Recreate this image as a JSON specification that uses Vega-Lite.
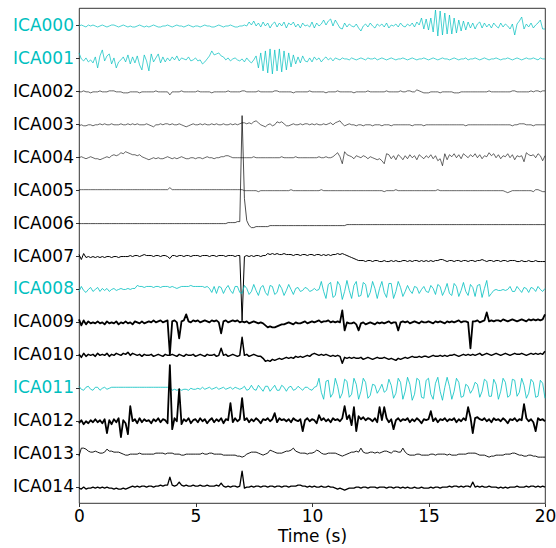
{
"$schema": "https://vega.github.io/schema/vega-lite/v6.json",
"width": 466, "height": 495,
"autosize": {"type": "none"},
"padding": {"left": 79, "top": 8, "right": 11, "bottom": 45},
"config": {"view": {"stroke": "black", "strokeWidth": 0.8}, "font": "DejaVu Sans"},
"datasets": {"names": [
{"k":"a","name":"ICA000","kind":"excluded"},{"k":"b","name":"ICA001","kind":"excluded"},{"k":"c","name":"ICA002","kind":"kept"},{"k":"d","name":"ICA003","kind":"kept"},{"k":"e","name":"ICA004","kind":"kept"},{"k":"f","name":"ICA005","kind":"kept"},{"k":"g","name":"ICA006","kind":"kept"},{"k":"h","name":"ICA007","kind":"kept"},{"k":"i","name":"ICA008","kind":"excluded"},{"k":"j","name":"ICA009","kind":"kept"},{"k":"k","name":"ICA010","kind":"kept"},{"k":"l","name":"ICA011","kind":"excluded"},{"k":"m","name":"ICA012","kind":"kept"},{"k":"n","name":"ICA013","kind":"kept"},{"k":"o","name":"ICA014","kind":"kept"}]},
"data": {"values": [
{"t":0,"a":0,"b":6,"c":0,"d":-1,"e":0,"f":1,"g":0,"h":2,"i":-2,"j":3,"k":1,"l":2,"m":-2,"n":-2,"o":-1},
{"t":0.1,"a":1,"b":0,"c":0,"d":0,"e":1,"f":1,"g":0,"h":-3,"i":3,"j":-3,"k":-2,"l":-1,"m":1,"n":6,"o":-2},
{"t":0.2,"a":0,"b":-2,"c":1,"d":-1,"e":0,"f":1,"g":0,"h":3,"i":-1,"j":2,"k":2,"l":-2,"m":-3,"n":6,"o":0},
{"t":0.3,"a":-1,"b":1,"c":0,"d":-1,"e":-1,"f":1,"g":0,"h":-1,"i":-3,"j":-2,"k":-1,"l":1,"m":0,"n":5,"o":-2},
{"t":0.4,"a":1,"b":-3,"c":0,"d":0,"e":0,"f":1,"g":0,"h":0,"i":0,"j":1,"k":1,"l":2,"m":-2,"n":3,"o":-1},
{"t":0.5,"a":0,"b":-1,"c":-1,"d":0,"e":1,"f":1,"g":0,"h":-1,"i":2,"j":-1,"k":0,"l":-1,"m":1,"n":2,"o":-1},
{"t":0.6,"a":1,"b":-4,"c":0,"d":-1,"e":0,"f":1,"g":0,"h":0,"i":-2,"j":0,"k":1,"l":-2,"m":-1,"n":2,"o":0},
{"t":0.7,"a":0,"b":2,"c":0,"d":0,"e":-1,"f":1,"g":0,"h":-1,"i":0,"j":-1,"k":-1,"l":1,"m":2,"n":3,"o":-1},
{"t":0.8,"a":-1,"b":-9,"c":0,"d":0,"e":-1,"f":1,"g":0,"h":0,"i":2,"j":1,"k":2,"l":1,"m":-1,"n":2,"o":0},
{"t":0.9,"a":0,"b":3,"c":1,"d":1,"e":-2,"f":1,"g":0,"h":-1,"i":-2,"j":-1,"k":0,"l":-2,"m":1,"n":1,"o":-1},
{"t":1,"a":1,"b":9,"c":0,"d":0,"e":-1,"f":1,"g":0,"h":0,"i":1,"j":0,"k":1,"l":0,"m":-2,"n":1,"o":0},
{"t":1.1,"a":0,"b":-2,"c":0,"d":1,"e":0,"f":1,"g":0,"h":-1,"i":-1,"j":-2,"k":0,"l":1,"m":2,"n":2,"o":-1},
{"t":1.2,"a":-1,"b":3,"c":0,"d":0,"e":1,"f":1,"g":0,"h":0,"i":1,"j":1,"k":2,"l":-1,"m":-12,"n":5,"o":0},
{"t":1.3,"a":0,"b":5,"c":1,"d":0,"e":0,"f":1,"g":0,"h":0,"i":-2,"j":-1,"k":-1,"l":0,"m":1,"n":3,"o":-1},
{"t":1.4,"a":1,"b":-5,"c":1,"d":1,"e":2,"f":1,"g":0,"h":-1,"i":0,"j":0,"k":1,"l":1,"m":-3,"n":3,"o":-1},
{"t":1.5,"a":1,"b":1,"c":1,"d":0,"e":3,"f":1,"g":0,"h":0,"i":1,"j":-1,"k":0,"l":1,"m":2,"n":2,"o":-2},
{"t":1.6,"a":0,"b":-9,"c":0,"d":0,"e":2,"f":1,"g":0,"h":0,"i":-1,"j":1,"k":2,"l":1,"m":-1,"n":2,"o":-1},
{"t":1.7,"a":-1,"b":-3,"c":0,"d":0,"e":3,"f":1,"g":0,"h":-1,"i":0,"j":-2,"k":1,"l":1,"m":3,"n":2,"o":-2},
{"t":1.8,"a":0,"b":-1,"c":0,"d":1,"e":5,"f":1,"g":0,"h":0,"i":1,"j":0,"k":0,"l":1,"m":-16,"n":1,"o":-2},
{"t":1.9,"a":1,"b":2,"c":-1,"d":0,"e":4,"f":1,"g":0,"h":0,"i":0,"j":-1,"k":2,"l":1,"m":1,"n":0,"o":-1},
{"t":2,"a":0,"b":-3,"c":-1,"d":0,"e":6,"f":1,"g":0,"h":0,"i":0,"j":1,"k":1,"l":1,"m":-2,"n":-1,"o":-2},
{"t":2.1,"a":-1,"b":4,"c":-1,"d":1,"e":5,"f":1,"g":0,"h":0,"i":1,"j":-1,"k":3,"l":1,"m":-13,"n":-1,"o":-1},
{"t":2.2,"a":0,"b":-5,"c":0,"d":0,"e":4,"f":1,"g":0,"h":1,"i":0,"j":0,"k":0,"l":1,"m":15,"n":0,"o":0},
{"t":2.3,"a":-1,"b":2,"c":0,"d":1,"e":3,"f":1,"g":0,"h":0,"i":1,"j":-2,"k":2,"l":1,"m":0,"n":0,"o":1},
{"t":2.4,"a":-1,"b":-4,"c":0,"d":0,"e":3,"f":1,"g":0,"h":1,"i":1,"j":1,"k":1,"l":1,"m":2,"n":0,"o":0},
{"t":2.5,"a":0,"b":3,"c":0,"d":1,"e":2,"f":1,"g":0,"h":1,"i":4,"j":0,"k":0,"l":1,"m":-2,"n":0,"o":1},
{"t":2.6,"a":1,"b":-6,"c":-1,"d":0,"e":3,"f":1,"g":0,"h":0,"i":3,"j":-1,"k":1,"l":1,"m":3,"n":1,"o":0},
{"t":2.7,"a":0,"b":-11,"c":0,"d":0,"e":1,"f":1,"g":0,"h":1,"i":3,"j":1,"k":-1,"l":1,"m":-1,"n":0,"o":1},
{"t":2.8,"a":-1,"b":4,"c":0,"d":0,"e":0,"f":1,"g":0,"h":2,"i":2,"j":-1,"k":1,"l":1,"m":2,"n":0,"o":1},
{"t":2.9,"a":0,"b":-2,"c":0,"d":1,"e":-1,"f":1,"g":0,"h":1,"i":3,"j":0,"k":0,"l":1,"m":0,"n":0,"o":0},
{"t":3,"a":-1,"b":-12,"c":0,"d":0,"e":-2,"f":1,"g":0,"h":1,"i":3,"j":1,"k":0,"l":1,"m":1,"n":0,"o":1},
{"t":3.1,"a":0,"b":5,"c":0,"d":-1,"e":-1,"f":1,"g":0,"h":1,"i":3,"j":0,"k":1,"l":1,"m":-2,"n":0,"o":1},
{"t":3.2,"a":1,"b":-3,"c":0,"d":-2,"e":0,"f":1,"g":0,"h":0,"i":2,"j":2,"k":-1,"l":1,"m":2,"n":0,"o":0},
{"t":3.3,"a":0,"b":1,"c":1,"d":0,"e":-1,"f":1,"g":0,"h":1,"i":3,"j":0,"k":0,"l":1,"m":0,"n":1,"o":1},
{"t":3.4,"a":-1,"b":5,"c":0,"d":0,"e":0,"f":1,"g":0,"h":1,"i":3,"j":1,"k":1,"l":1,"m":3,"n":1,"o":1},
{"t":3.5,"a":-1,"b":-4,"c":0,"d":1,"e":-1,"f":1,"g":0,"h":0,"i":2,"j":2,"k":0,"l":1,"m":-1,"n":1,"o":2},
{"t":3.6,"a":0,"b":2,"c":0,"d":0,"e":-1,"f":1,"g":0,"h":1,"i":3,"j":0,"k":-1,"l":1,"m":2,"n":1,"o":1},
{"t":3.7,"a":0,"b":-3,"c":0,"d":1,"e":0,"f":1,"g":0,"h":1,"i":3,"j":1,"k":1,"l":1,"m":1,"n":0,"o":2},
{"t":3.8,"a":1,"b":1,"c":0,"d":1,"e":1,"f":1,"g":0,"h":0,"i":3,"j":2,"k":0,"l":1,"m":-2,"n":1,"o":2},
{"t":3.9,"a":0,"b":-2,"c":-3,"d":0,"e":0,"f":3,"g":0,"h":-2,"i":2,"j":-32,"k":0,"l":1,"m":56,"n":1,"o":10},
{"t":4,"a":-1,"b":2,"c":0,"d":1,"e":-1,"f":1,"g":0,"h":1,"i":3,"j":1,"k":1,"l":-2,"m":-8,"n":1,"o":2},
{"t":4.1,"a":0,"b":-1,"c":0,"d":0,"e":0,"f":1,"g":0,"h":1,"i":2,"j":2,"k":0,"l":-1,"m":3,"n":0,"o":1},
{"t":4.2,"a":1,"b":3,"c":0,"d":0,"e":-1,"f":1,"g":0,"h":0,"i":1,"j":0,"k":-1,"l":-2,"m":0,"n":0,"o":2},
{"t":4.3,"a":0,"b":-2,"c":0,"d":1,"e":0,"f":1,"g":0,"h":1,"i":2,"j":-16,"k":1,"l":-1,"m":32,"n":0,"o":5},
{"t":4.4,"a":0,"b":1,"c":1,"d":0,"e":1,"f":1,"g":0,"h":1,"i":3,"j":1,"k":0,"l":-2,"m":-3,"n":-1,"o":2},
{"t":4.5,"a":-1,"b":0,"c":0,"d":-1,"e":0,"f":1,"g":0,"h":0,"i":3,"j":2,"k":-1,"l":-1,"m":2,"n":-1,"o":1},
{"t":4.6,"a":0,"b":-1,"c":0,"d":-2,"e":-1,"f":1,"g":0,"h":1,"i":3,"j":8,"k":1,"l":-1,"m":0,"n":0,"o":2},
{"t":4.7,"a":1,"b":2,"c":0,"d":-1,"e":-1,"f":1,"g":0,"h":1,"i":3,"j":1,"k":0,"l":-2,"m":3,"n":0,"o":1},
{"t":4.8,"a":0,"b":-2,"c":0,"d":0,"e":0,"f":1,"g":0,"h":0,"i":4,"j":0,"k":0,"l":0,"m":-2,"n":0,"o":1},
{"t":4.9,"a":-1,"b":-1,"c":0,"d":1,"e":0,"f":1,"g":0,"h":1,"i":3,"j":2,"k":1,"l":-1,"m":1,"n":0,"o":2},
{"t":5,"a":0,"b":1,"c":0,"d":0,"e":-1,"f":1,"g":0,"h":1,"i":3,"j":1,"k":-1,"l":-1,"m":2,"n":0,"o":1},
{"t":5.1,"a":0,"b":-2,"c":1,"d":0,"e":0,"f":1,"g":0,"h":1,"i":3,"j":2,"k":0,"l":0,"m":-1,"n":0,"o":1},
{"t":5.2,"a":-1,"b":-1,"c":0,"d":1,"e":0,"f":1,"g":0,"h":0,"i":3,"j":0,"k":1,"l":-1,"m":3,"n":0,"o":2},
{"t":5.3,"a":0,"b":-5,"c":0,"d":0,"e":-1,"f":1,"g":0,"h":1,"i":3,"j":1,"k":0,"l":1,"m":0,"n":1,"o":1},
{"t":5.4,"a":1,"b":-3,"c":0,"d":1,"e":0,"f":1,"g":0,"h":1,"i":2,"j":2,"k":-1,"l":-1,"m":2,"n":0,"o":1},
{"t":5.5,"a":0,"b":0,"c":0,"d":0,"e":1,"f":1,"g":0,"h":1,"i":3,"j":1,"k":1,"l":0,"m":-2,"n":0,"o":2},
{"t":5.6,"a":0,"b":3,"c":0,"d":0,"e":0,"f":1,"g":0,"h":0,"i":1,"j":0,"k":0,"l":1,"m":1,"n":1,"o":1},
{"t":5.7,"a":-1,"b":8,"c":-1,"d":1,"e":0,"f":1,"g":0,"h":1,"i":-3,"j":2,"k":0,"l":-1,"m":3,"n":1,"o":1},
{"t":5.8,"a":-1,"b":4,"c":0,"d":0,"e":-1,"f":1,"g":0,"h":1,"i":3,"j":1,"k":1,"l":0,"m":-1,"n":0,"o":1},
{"t":5.9,"a":0,"b":5,"c":0,"d":1,"e":0,"f":1,"g":0,"h":0,"i":-4,"j":2,"k":-1,"l":1,"m":2,"n":0,"o":2},
{"t":6,"a":1,"b":6,"c":0,"d":0,"e":0,"f":1,"g":0,"h":1,"i":3,"j":0,"k":0,"l":-1,"m":0,"n":0,"o":1},
{"t":6.1,"a":0,"b":3,"c":0,"d":0,"e":1,"f":1,"g":0,"h":1,"i":2,"j":-11,"k":7,"l":0,"m":3,"n":0,"o":4},
{"t":6.2,"a":-1,"b":2,"c":0,"d":1,"e":1,"f":1,"g":0,"h":1,"i":-4,"j":1,"k":0,"l":1,"m":-2,"n":-1,"o":1},
{"t":6.3,"a":0,"b":-1,"c":0,"d":0,"e":2,"f":1,"g":0,"h":0,"i":1,"j":2,"k":1,"l":-1,"m":2,"n":-1,"o":0},
{"t":6.4,"a":0,"b":1,"c":1,"d":0,"e":2,"f":1,"g":1,"h":1,"i":4,"j":0,"k":-1,"l":0,"m":1,"n":-1,"o":1},
{"t":6.5,"a":1,"b":-2,"c":0,"d":1,"e":1,"f":1,"g":1,"h":1,"i":-1,"j":1,"k":0,"l":1,"m":18,"n":-1,"o":0},
{"t":6.6,"a":0,"b":0,"c":0,"d":0,"e":0,"f":1,"g":1,"h":1,"i":-4,"j":2,"k":1,"l":-1,"m":-1,"n":-1,"o":1},
{"t":6.7,"a":-1,"b":1,"c":0,"d":1,"e":0,"f":1,"g":1,"h":0,"i":3,"j":1,"k":0,"l":1,"m":3,"n":-1,"o":1},
{"t":6.8,"a":-1,"b":-1,"c":0,"d":0,"e":0,"f":1,"g":2,"h":1,"i":3,"j":2,"k":-1,"l":0,"m":0,"n":-2,"o":0},
{"t":6.9,"a":0,"b":-2,"c":0,"d":1,"e":0,"f":1,"g":2,"h":1,"i":-3,"j":0,"k":0,"l":-1,"m":2,"n":-2,"o":1},
{"t":7,"a":0,"b":0,"c":1,"d":2,"e":0,"f":1,"g":108,"h":-64,"i":-4,"j":1,"k":18,"l":0,"m":23,"n":-3,"o":16},
{"t":7.1,"a":1,"b":-3,"c":1,"d":2,"e":0,"f":0,"g":25,"h":0,"i":4,"j":0,"k":0,"l":2,"m":1,"n":-2,"o":-1},
{"t":7.2,"a":0,"b":1,"c":0,"d":1,"e":0,"f":0,"g":3,"h":1,"i":1,"j":1,"k":1,"l":-2,"m":3,"n":0,"o":0},
{"t":7.3,"a":4,"b":-2,"c":0,"d":2,"e":0,"f":0,"g":-2,"h":0,"i":-5,"j":-1,"k":-1,"l":-1,"m":-1,"n":1,"o":0},
{"t":7.4,"a":1,"b":-4,"c":0,"d":1,"e":0,"f":0,"g":-4,"h":1,"i":-2,"j":0,"k":0,"l":3,"m":2,"n":2,"o":1},
{"t":7.5,"a":5,"b":-1,"c":0,"d":3,"e":1,"f":0,"g":-4,"h":0,"i":5,"j":1,"k":1,"l":-1,"m":0,"n":2,"o":0},
{"t":7.6,"a":0,"b":3,"c":0,"d":4,"e":0,"f":0,"g":-3,"h":1,"i":-1,"j":0,"k":0,"l":-2,"m":3,"n":2,"o":1},
{"t":7.7,"a":3,"b":-9,"c":1,"d":2,"e":0,"f":-1,"g":-3,"h":1,"i":-6,"j":-1,"k":-1,"l":3,"m":1,"n":1,"o":1},
{"t":7.8,"a":-1,"b":6,"c":0,"d":0,"e":0,"f":0,"g":-3,"h":0,"i":2,"j":0,"k":-1,"l":0,"m":-2,"n":0,"o":0},
{"t":7.9,"a":4,"b":-12,"c":0,"d":-1,"e":0,"f":0,"g":-3,"h":1,"i":4,"j":-1,"k":-3,"l":-3,"m":2,"n":-1,"o":1},
{"t":8,"a":0,"b":8,"c":0,"d":-2,"e":0,"f":0,"g":-3,"h":1,"i":-3,"j":-3,"k":-6,"l":2,"m":1,"n":0,"o":1},
{"t":8.1,"a":3,"b":-14,"c":0,"d":0,"e":0,"f":0,"g":-3,"h":3,"i":-6,"j":-5,"k":-5,"l":2,"m":3,"n":1,"o":0},
{"t":8.2,"a":-2,"b":10,"c":0,"d":1,"e":0,"f":0,"g":-2,"h":2,"i":4,"j":-4,"k":-6,"l":-3,"m":0,"n":4,"o":1},
{"t":8.3,"a":2,"b":-15,"c":0,"d":-1,"e":0,"f":0,"g":-2,"h":3,"i":3,"j":-5,"k":-4,"l":0,"m":2,"n":3,"o":1},
{"t":8.4,"a":4,"b":9,"c":1,"d":0,"e":0,"f":0,"g":-2,"h":2,"i":-5,"j":-5,"k":-5,"l":3,"m":8,"n":2,"o":0},
{"t":8.5,"a":-1,"b":-12,"c":1,"d":3,"e":0,"f":0,"g":-2,"h":3,"i":-3,"j":-4,"k":-4,"l":-2,"m":-1,"n":1,"o":1},
{"t":8.6,"a":3,"b":10,"c":0,"d":2,"e":0,"f":0,"g":-2,"h":2,"i":5,"j":-3,"k":-3,"l":-2,"m":3,"n":1,"o":1},
{"t":8.7,"a":0,"b":-13,"c":0,"d":3,"e":1,"f":0,"g":-2,"h":2,"i":1,"j":-2,"k":-4,"l":3,"m":1,"n":1,"o":0},
{"t":8.8,"a":4,"b":8,"c":0,"d":1,"e":0,"f":0,"g":-2,"h":3,"i":-6,"j":-2,"k":-3,"l":1,"m":2,"n":2,"o":1},
{"t":8.9,"a":-2,"b":-11,"c":0,"d":-1,"e":0,"f":0,"g":-2,"h":2,"i":-1,"j":-1,"k":-2,"l":-3,"m":0,"n":3,"o":1},
{"t":9,"a":3,"b":6,"c":0,"d":-1,"e":0,"f":0,"g":-2,"h":2,"i":5,"j":0,"k":-3,"l":1,"m":2,"n":3,"o":0},
{"t":9.1,"a":1,"b":-8,"c":0,"d":0,"e":0,"f":1,"g":-2,"h":2,"i":0,"j":-1,"k":-2,"l":2,"m":-1,"n":4,"o":1},
{"t":9.2,"a":4,"b":4,"c":-1,"d":1,"e":0,"f":0,"g":-2,"h":1,"i":-5,"j":-2,"k":-3,"l":-2,"m":3,"n":6,"o":1},
{"t":9.3,"a":-1,"b":-5,"c":0,"d":0,"e":1,"f":0,"g":-2,"h":2,"i":1,"j":0,"k":-1,"l":-1,"m":1,"n":3,"o":1},
{"t":9.4,"a":2,"b":2,"c":0,"d":0,"e":0,"f":0,"g":-2,"h":2,"i":2,"j":-1,"k":-2,"l":2,"m":0,"n":2,"o":2},
{"t":9.5,"a":-2,"b":-4,"c":0,"d":1,"e":0,"f":0,"g":-2,"h":1,"i":-2,"j":-1,"k":-1,"l":0,"m":2,"n":1,"o":2},
{"t":9.6,"a":3,"b":3,"c":0,"d":0,"e":0,"f":0,"g":-2,"h":2,"i":-1,"j":0,"k":-2,"l":-2,"m":-10,"n":1,"o":1},
{"t":9.7,"a":0,"b":-2,"c":0,"d":1,"e":0,"f":0,"g":-2,"h":2,"i":2,"j":1,"k":-1,"l":1,"m":1,"n":1,"o":1},
{"t":9.8,"a":1,"b":-3,"c":0,"d":1,"e":0,"f":0,"g":-2,"h":1,"i":1,"j":-1,"k":0,"l":1,"m":3,"n":0,"o":0},
{"t":9.9,"a":-1,"b":1,"c":1,"d":0,"e":0,"f":0,"g":-2,"h":2,"i":-2,"j":0,"k":-1,"l":-1,"m":0,"n":1,"o":1},
{"t":10,"a":4,"b":-3,"c":0,"d":1,"e":0,"f":0,"g":-2,"h":2,"i":-1,"j":1,"k":1,"l":-2,"m":2,"n":1,"o":0},
{"t":10.1,"a":-2,"b":2,"c":0,"d":0,"e":0,"f":0,"g":-2,"h":1,"i":1,"j":0,"k":2,"l":1,"m":1,"n":2,"o":1},
{"t":10.2,"a":3,"b":-1,"c":0,"d":1,"e":0,"f":0,"g":-2,"h":2,"i":-1,"j":1,"k":1,"l":2,"m":-2,"n":4,"o":0},
{"t":10.3,"a":0,"b":1,"c":0,"d":0,"e":1,"f":0,"g":-2,"h":2,"i":0,"j":2,"k":0,"l":10,"m":6,"n":3,"o":0},
{"t":10.4,"a":2,"b":-3,"c":0,"d":0,"e":0,"f":1,"g":-2,"h":1,"i":8,"j":0,"k":1,"l":-4,"m":1,"n":1,"o":1},
{"t":10.5,"a":6,"b":0,"c":0,"d":1,"e":0,"f":0,"g":-2,"h":2,"i":-2,"j":1,"k":0,"l":-11,"m":3,"n":0,"o":0},
{"t":10.6,"a":1,"b":2,"c":-1,"d":0,"e":1,"f":0,"g":-2,"h":1,"i":-9,"j":1,"k":1,"l":7,"m":0,"n":0,"o":0},
{"t":10.7,"a":5,"b":-1,"c":0,"d":1,"e":0,"f":0,"g":-2,"h":2,"i":5,"j":2,"k":0,"l":8,"m":2,"n":1,"o":1},
{"t":10.8,"a":7,"b":1,"c":0,"d":2,"e":0,"f":0,"g":-2,"h":1,"i":7,"j":0,"k":-1,"l":-9,"m":-1,"n":1,"o":0},
{"t":10.9,"a":0,"b":-2,"c":0,"d":0,"e":1,"f":0,"g":-2,"h":2,"i":-8,"j":1,"k":0,"l":-5,"m":3,"n":1,"o":0},
{"t":11,"a":6,"b":1,"c":0,"d":2,"e":3,"f":0,"g":-2,"h":2,"i":-6,"j":0,"k":-1,"l":10,"m":1,"n":1,"o":-1},
{"t":11.1,"a":2,"b":0,"c":1,"d":3,"e":5,"f":0,"g":-2,"h":3,"i":8,"j":1,"k":0,"l":2,"m":2,"n":0,"o":-2},
{"t":11.2,"a":-2,"b":-1,"c":0,"d":4,"e":1,"f":0,"g":-2,"h":2,"i":4,"j":0,"k":-1,"l":-10,"m":0,"n":-1,"o":-1},
{"t":11.3,"a":-3,"b":1,"c":0,"d":1,"e":-6,"f":0,"g":-2,"h":3,"i":-10,"j":12,"k":-8,"l":-5,"m":3,"n":-2,"o":-2},
{"t":11.4,"a":3,"b":0,"c":0,"d":-1,"e":6,"f":0,"g":-2,"h":2,"i":-2,"j":-8,"k":-2,"l":9,"m":15,"n":-1,"o":-3},
{"t":11.5,"a":-1,"b":0,"c":0,"d":0,"e":3,"f":0,"g":-1,"h":1,"i":9,"j":0,"k":-3,"l":7,"m":2,"n":0,"o":-2},
{"t":11.6,"a":2,"b":-1,"c":0,"d":1,"e":2,"f":0,"g":-1,"h":0,"i":-1,"j":-1,"k":-2,"l":-9,"m":6,"n":1,"o":-1},
{"t":11.7,"a":0,"b":1,"c":0,"d":0,"e":1,"f":0,"g":-1,"h":-1,"i":-9,"j":-1,"k":-3,"l":-6,"m":-4,"n":2,"o":-1},
{"t":11.8,"a":-1,"b":0,"c":-1,"d":0,"e":-1,"f":0,"g":-1,"h":-2,"i":4,"j":0,"k":-2,"l":10,"m":14,"n":2,"o":-1},
{"t":11.9,"a":2,"b":-1,"c":0,"d":-1,"e":2,"f":0,"g":-1,"h":-3,"i":8,"j":-2,"k":-3,"l":4,"m":-10,"n":3,"o":0},
{"t":12,"a":-2,"b":0,"c":0,"d":0,"e":1,"f":0,"g":-1,"h":-4,"i":-7,"j":-8,"k":-3,"l":-11,"m":5,"n":2,"o":0},
{"t":12.1,"a":-5,"b":1,"c":0,"d":0,"e":0,"f":0,"g":-1,"h":-4,"i":-6,"j":-1,"k":-2,"l":-3,"m":2,"n":6,"o":-1},
{"t":12.2,"a":0,"b":0,"c":0,"d":-1,"e":2,"f":0,"g":-1,"h":-4,"i":7,"j":0,"k":-4,"l":10,"m":4,"n":2,"o":0},
{"t":12.3,"a":2,"b":-1,"c":0,"d":0,"e":1,"f":0,"g":-1,"h":-5,"i":5,"j":-2,"k":-3,"l":6,"m":1,"n":1,"o":0},
{"t":12.4,"a":-1,"b":1,"c":1,"d":0,"e":-1,"f":0,"g":-1,"h":-4,"i":-8,"j":-1,"k":-2,"l":-10,"m":3,"n":1,"o":-1},
{"t":12.5,"a":3,"b":0,"c":0,"d":0,"e":1,"f":0,"g":-1,"h":-4,"i":-3,"j":0,"k":-3,"l":-7,"m":2,"n":2,"o":0},
{"t":12.6,"a":0,"b":0,"c":0,"d":-1,"e":0,"f":0,"g":-1,"h":-5,"i":8,"j":-1,"k":-4,"l":4,"m":0,"n":2,"o":0},
{"t":12.7,"a":-2,"b":1,"c":0,"d":0,"e":-1,"f":0,"g":-1,"h":-4,"i":1,"j":-2,"k":-3,"l":3,"m":3,"n":1,"o":0},
{"t":12.8,"a":2,"b":-1,"c":0,"d":0,"e":-2,"f":0,"g":-1,"h":-4,"i":-9,"j":0,"k":-2,"l":-5,"m":-1,"n":2,"o":-1},
{"t":12.9,"a":0,"b":0,"c":0,"d":0,"e":-1,"f":0,"g":-1,"h":-5,"i":1,"j":-1,"k":-3,"l":-1,"m":14,"n":1,"o":0},
{"t":13,"a":2,"b":1,"c":0,"d":-1,"e":-3,"f":0,"g":-1,"h":-5,"i":8,"j":0,"k":-3,"l":4,"m":1,"n":2,"o":0},
{"t":13.1,"a":-1,"b":0,"c":0,"d":0,"e":-6,"f":-1,"g":-1,"h":-4,"i":-3,"j":-1,"k":-2,"l":-4,"m":14,"n":3,"o":0},
{"t":13.2,"a":3,"b":-1,"c":1,"d":0,"e":4,"f":0,"g":-1,"h":-5,"i":-8,"j":0,"k":-3,"l":-2,"m":3,"n":3,"o":-1},
{"t":13.3,"a":-2,"b":0,"c":0,"d":0,"e":3,"f":0,"g":-1,"h":-5,"i":6,"j":1,"k":-4,"l":9,"m":-1,"n":2,"o":0},
{"t":13.4,"a":1,"b":1,"c":0,"d":-1,"e":-1,"f":0,"g":-1,"h":-4,"i":6,"j":-1,"k":-3,"l":3,"m":2,"n":1,"o":0},
{"t":13.5,"a":0,"b":0,"c":0,"d":0,"e":2,"f":0,"g":-1,"h":-5,"i":-9,"j":0,"k":-4,"l":-10,"m":-8,"n":3,"o":-1},
{"t":13.6,"a":2,"b":-1,"c":0,"d":0,"e":-2,"f":1,"g":-1,"h":-4,"i":-2,"j":0,"k":-5,"l":-5,"m":1,"n":3,"o":0},
{"t":13.7,"a":-1,"b":0,"c":0,"d":0,"e":3,"f":0,"g":-1,"h":-5,"i":8,"j":-8,"k":-3,"l":10,"m":3,"n":2,"o":0},
{"t":13.8,"a":3,"b":0,"c":1,"d":0,"e":1,"f":0,"g":-1,"h":-5,"i":2,"j":0,"k":-4,"l":6,"m":0,"n":2,"o":-1},
{"t":13.9,"a":0,"b":1,"c":0,"d":0,"e":-2,"f":0,"g":-1,"h":-4,"i":-7,"j":1,"k":-3,"l":-11,"m":2,"n":6,"o":0},
{"t":14,"a":-1,"b":0,"c":0,"d":0,"e":2,"f":0,"g":-1,"h":-4,"i":-2,"j":0,"k":-2,"l":-3,"m":1,"n":2,"o":-1},
{"t":14.1,"a":2,"b":-1,"c":1,"d":0,"e":-1,"f":0,"g":-1,"h":-5,"i":4,"j":1,"k":-3,"l":11,"m":3,"n":0,"o":0},
{"t":14.2,"a":0,"b":0,"c":1,"d":0,"e":3,"f":0,"g":-1,"h":-4,"i":-1,"j":-1,"k":-2,"l":4,"m":-1,"n":-1,"o":-1},
{"t":14.3,"a":3,"b":1,"c":0,"d":-1,"e":0,"f":0,"g":-1,"h":-5,"i":-4,"j":0,"k":-1,"l":-12,"m":2,"n":-1,"o":-1},
{"t":14.4,"a":-1,"b":0,"c":0,"d":0,"e":2,"f":0,"g":-1,"h":-4,"i":3,"j":1,"k":-2,"l":-6,"m":0,"n":-1,"o":0},
{"t":14.5,"a":4,"b":-1,"c":2,"d":0,"e":-2,"f":0,"g":-1,"h":-4,"i":2,"j":0,"k":-2,"l":10,"m":3,"n":0,"o":-1},
{"t":14.6,"a":1,"b":0,"c":1,"d":0,"e":3,"f":0,"g":-1,"h":-5,"i":-4,"j":-1,"k":-1,"l":8,"m":1,"n":0,"o":-1},
{"t":14.7,"a":8,"b":0,"c":0,"d":0,"e":1,"f":0,"g":-1,"h":-4,"i":0,"j":1,"k":-2,"l":-9,"m":-2,"n":-1,"o":0},
{"t":14.8,"a":-3,"b":1,"c":-1,"d":-1,"e":-1,"f":0,"g":-1,"h":-5,"i":3,"j":0,"k":-1,"l":-10,"m":2,"n":-1,"o":-1},
{"t":14.9,"a":7,"b":0,"c":-1,"d":0,"e":2,"f":0,"g":-1,"h":-4,"i":-2,"j":0,"k":-1,"l":8,"m":1,"n":-1,"o":-1},
{"t":15,"a":-4,"b":-1,"c":-1,"d":0,"e":0,"f":0,"g":-1,"h":-5,"i":-3,"j":1,"k":-2,"l":10,"m":2,"n":-1,"o":-1},
{"t":15.1,"a":8,"b":0,"c":0,"d":0,"e":3,"f":0,"g":-1,"h":-4,"i":4,"j":0,"k":-1,"l":-6,"m":10,"n":0,"o":0},
{"t":15.2,"a":-6,"b":1,"c":0,"d":0,"e":-1,"f":0,"g":-1,"h":-5,"i":1,"j":-1,"k":0,"l":-11,"m":0,"n":0,"o":-1},
{"t":15.3,"a":16,"b":0,"c":0,"d":0,"e":2,"f":0,"g":-1,"h":-4,"i":-5,"j":1,"k":-1,"l":5,"m":3,"n":-1,"o":0},
{"t":15.4,"a":-10,"b":-1,"c":0,"d":0,"e":-3,"f":1,"g":-1,"h":-4,"i":5,"j":0,"k":-1,"l":11,"m":-1,"n":0,"o":0},
{"t":15.5,"a":15,"b":0,"c":-1,"d":0,"e":-1,"f":0,"g":-1,"h":-3,"i":3,"j":1,"k":0,"l":-3,"m":2,"n":0,"o":-1},
{"t":15.6,"a":-9,"b":1,"c":0,"d":0,"e":-8,"f":0,"g":-1,"h":-3,"i":-6,"j":0,"k":-1,"l":-12,"m":1,"n":0,"o":0},
{"t":15.7,"a":13,"b":0,"c":0,"d":0,"e":4,"f":0,"g":-1,"h":-4,"i":-1,"j":-1,"k":0,"l":1,"m":3,"n":0,"o":0},
{"t":15.8,"a":-8,"b":0,"c":0,"d":0,"e":-2,"f":0,"g":-1,"h":-5,"i":6,"j":1,"k":-1,"l":11,"m":0,"n":-1,"o":0},
{"t":15.9,"a":11,"b":-1,"c":0,"d":0,"e":3,"f":0,"g":-1,"h":-4,"i":-4,"j":0,"k":0,"l":2,"m":2,"n":0,"o":1},
{"t":16,"a":-8,"b":0,"c":0,"d":0,"e":1,"f":0,"g":-1,"h":-4,"i":-6,"j":1,"k":0,"l":-11,"m":1,"n":-1,"o":0},
{"t":16.1,"a":8,"b":1,"c":-1,"d":0,"e":4,"f":0,"g":-1,"h":-5,"i":6,"j":0,"k":1,"l":-3,"m":3,"n":-1,"o":1},
{"t":16.2,"a":-7,"b":0,"c":-1,"d":0,"e":0,"f":0,"g":-1,"h":-4,"i":3,"j":1,"k":0,"l":10,"m":-1,"n":-1,"o":1},
{"t":16.3,"a":6,"b":-1,"c":-1,"d":0,"e":3,"f":0,"g":-1,"h":-4,"i":-7,"j":2,"k":-1,"l":6,"m":2,"n":0,"o":0},
{"t":16.4,"a":-5,"b":0,"c":0,"d":0,"e":-1,"f":0,"g":-1,"h":-5,"i":-1,"j":0,"k":0,"l":-9,"m":0,"n":0,"o":1},
{"t":16.5,"a":5,"b":0,"c":0,"d":0,"e":4,"f":0,"g":-1,"h":-4,"i":7,"j":1,"k":1,"l":-8,"m":3,"n":0,"o":0},
{"t":16.6,"a":-4,"b":1,"c":0,"d":-1,"e":2,"f":0,"g":-1,"h":-4,"i":-2,"j":1,"k":0,"l":4,"m":1,"n":0,"o":1},
{"t":16.7,"a":4,"b":-1,"c":0,"d":0,"e":0,"f":0,"g":-1,"h":-5,"i":-6,"j":0,"k":1,"l":2,"m":14,"n":1,"o":1},
{"t":16.8,"a":-2,"b":0,"c":0,"d":0,"e":3,"f":0,"g":-1,"h":-4,"i":5,"j":-26,"k":0,"l":-5,"m":4,"n":1,"o":0},
{"t":16.9,"a":3,"b":0,"c":0,"d":0,"e":1,"f":0,"g":-1,"h":-4,"i":2,"j":1,"k":1,"l":-1,"m":-12,"n":1,"o":5},
{"t":17,"a":-3,"b":1,"c":0,"d":0,"e":4,"f":0,"g":-1,"h":-5,"i":-7,"j":1,"k":0,"l":6,"m":3,"n":1,"o":0},
{"t":17.1,"a":2,"b":0,"c":0,"d":0,"e":0,"f":0,"g":-1,"h":-4,"i":4,"j":2,"k":1,"l":4,"m":4,"n":0,"o":1},
{"t":17.2,"a":4,"b":-1,"c":0,"d":0,"e":3,"f":0,"g":-1,"h":-4,"i":5,"j":0,"k":2,"l":-9,"m":2,"n":-1,"o":0},
{"t":17.3,"a":-2,"b":0,"c":0,"d":0,"e":-1,"f":0,"g":-1,"h":-3,"i":-8,"j":1,"k":0,"l":-3,"m":1,"n":-1,"o":1},
{"t":17.4,"a":3,"b":1,"c":0,"d":0,"e":2,"f":0,"g":-1,"h":-4,"i":1,"j":2,"k":1,"l":9,"m":3,"n":-1,"o":0},
{"t":17.5,"a":-1,"b":0,"c":0,"d":0,"e":1,"f":0,"g":-1,"h":-5,"i":9,"j":10,"k":2,"l":7,"m":0,"n":-2,"o":0},
{"t":17.6,"a":2,"b":-1,"c":1,"d":0,"e":5,"f":0,"g":-1,"h":-4,"i":-7,"j":1,"k":1,"l":-8,"m":2,"n":-3,"o":1},
{"t":17.7,"a":-2,"b":0,"c":0,"d":0,"e":2,"f":0,"g":-1,"h":-4,"i":-4,"j":2,"k":0,"l":-8,"m":-1,"n":-2,"o":0},
{"t":17.8,"a":3,"b":0,"c":0,"d":0,"e":4,"f":0,"g":-1,"h":-5,"i":-1,"j":1,"k":1,"l":9,"m":3,"n":-2,"o":0},
{"t":17.9,"a":0,"b":1,"c":0,"d":0,"e":0,"f":0,"g":-1,"h":-4,"i":0,"j":2,"k":2,"l":4,"m":1,"n":-1,"o":0},
{"t":18,"a":-2,"b":0,"c":0,"d":0,"e":3,"f":0,"g":-1,"h":-4,"i":-1,"j":2,"k":1,"l":-11,"m":2,"n":-1,"o":-1},
{"t":18.1,"a":3,"b":-1,"c":0,"d":0,"e":-1,"f":0,"g":-1,"h":-5,"i":-1,"j":1,"k":0,"l":-3,"m":0,"n":-1,"o":0},
{"t":18.2,"a":-1,"b":0,"c":0,"d":0,"e":2,"f":0,"g":-1,"h":-4,"i":0,"j":3,"k":1,"l":10,"m":3,"n":-1,"o":-1},
{"t":18.3,"a":2,"b":0,"c":0,"d":0,"e":1,"f":-1,"g":-1,"h":-4,"i":-1,"j":2,"k":2,"l":6,"m":1,"n":0,"o":0},
{"t":18.4,"a":0,"b":1,"c":0,"d":0,"e":4,"f":-2,"g":-1,"h":-5,"i":0,"j":1,"k":1,"l":-9,"m":-2,"n":0,"o":-1},
{"t":18.5,"a":-3,"b":0,"c":0,"d":0,"e":0,"f":-1,"g":-1,"h":-4,"i":3,"j":2,"k":0,"l":-7,"m":2,"n":0,"o":0},
{"t":18.6,"a":2,"b":-1,"c":1,"d":-1,"e":3,"f":0,"g":-1,"h":-4,"i":-2,"j":3,"k":1,"l":9,"m":1,"n":1,"o":0},
{"t":18.7,"a":-9,"b":0,"c":1,"d":0,"e":-2,"f":0,"g":-1,"h":-4,"i":-2,"j":2,"k":2,"l":8,"m":3,"n":1,"o":0},
{"t":18.8,"a":2,"b":1,"c":0,"d":0,"e":2,"f":0,"g":-1,"h":-5,"i":3,"j":1,"k":1,"l":-8,"m":0,"n":0,"o":1},
{"t":18.9,"a":5,"b":0,"c":0,"d":1,"e":1,"f":0,"g":-1,"h":-5,"i":0,"j":2,"k":1,"l":-4,"m":2,"n":-1,"o":0},
{"t":19,"a":9,"b":-1,"c":0,"d":1,"e":2,"f":0,"g":-1,"h":-4,"i":-3,"j":3,"k":2,"l":10,"m":1,"n":-1,"o":0},
{"t":19.1,"a":-3,"b":0,"c":0,"d":1,"e":-4,"f":0,"g":-1,"h":-5,"i":2,"j":2,"k":1,"l":3,"m":17,"n":-2,"o":0},
{"t":19.2,"a":2,"b":1,"c":0,"d":0,"e":5,"f":0,"g":-1,"h":-5,"i":1,"j":1,"k":0,"l":-10,"m":3,"n":-2,"o":1},
{"t":19.3,"a":-1,"b":0,"c":0,"d":0,"e":3,"f":0,"g":-1,"h":-4,"i":-3,"j":3,"k":1,"l":-5,"m":0,"n":-1,"o":0},
{"t":19.4,"a":3,"b":0,"c":1,"d":0,"e":2,"f":0,"g":-1,"h":-5,"i":2,"j":2,"k":2,"l":9,"m":2,"n":-1,"o":1},
{"t":19.5,"a":-2,"b":1,"c":0,"d":-1,"e":3,"f":-1,"g":-1,"h":-5,"i":1,"j":3,"k":1,"l":6,"m":-1,"n":-2,"o":1},
{"t":19.6,"a":1,"b":0,"c":1,"d":0,"e":0,"f":1,"g":-1,"h":-4,"i":-2,"j":2,"k":2,"l":-9,"m":-10,"n":-2,"o":0},
{"t":19.7,"a":3,"b":-1,"c":1,"d":0,"e":4,"f":1,"g":-1,"h":-5,"i":3,"j":3,"k":1,"l":-8,"m":3,"n":-3,"o":1},
{"t":19.8,"a":6,"b":1,"c":0,"d":0,"e":2,"f":0,"g":-1,"h":-5,"i":0,"j":2,"k":2,"l":8,"m":1,"n":-3,"o":0},
{"t":19.9,"a":-3,"b":0,"c":1,"d":0,"e":-3,"f":-1,"g":-1,"h":-5,"i":-2,"j":3,"k":1,"l":5,"m":2,"n":-3,"o":1},
{"t":20,"a":-3,"b":0,"c":1,"d":0,"e":2,"f":-1,"g":-1,"h":-5,"i":1,"j":8,"k":4,"l":-10,"m":0,"n":-3,"o":0}
]},
"transform": [
{"fold": ["a","b","c","d","e","f","g","h","i","j","k","l","m","n","o"], "as": ["k","v"]},
{"lookup": "k", "from": {"data": {"name": "names"}, "key": "k", "fields": ["name","kind"]}}
],
"mark": {"type": "line", "strokeJoin": "round"},
"encoding": {
"x": {"field": "t", "type": "quantitative", "scale": {"domain": [0, 20], "nice": false},
 "axis": {"title": "Time (s)", "values": [0, 5, 10, 15, 20], "grid": false, "domain": false, "tickSize": 3.5, "tickColor": "black", "tickWidth": 0.8, "labelFontSize": 17, "labelColor": "black", "labelPadding": 2, "labelFlush": false, "titleFontSize": 17, "titleFontWeight": "normal", "titleColor": "black", "titlePadding": 4}},
"y": {"field": "name", "type": "nominal", "scale": {"type": "band", "domain": ["ICA000","ICA001","ICA002","ICA003","ICA004","ICA005","ICA006","ICA007","ICA008","ICA009","ICA010","ICA011","ICA012","ICA013","ICA014"], "range": [1.5, 495.5], "paddingInner": 0, "paddingOuter": 0},
 "axis": {"title": null, "domain": false, "grid": false, "tickSize": 3.5, "tickColor": "black", "tickWidth": 0.8, "labelFontSize": 17, "labelPadding": 2, "labelColor": {"condition": {"test": "indexof(['ICA000','ICA001','ICA008','ICA011'], datum.value) >= 0", "value": "#00bfbf"}, "value": "black"}}},
"yOffset": {"field": "v", "type": "quantitative", "scale": {"domain": [-16.5, 16.5], "range": [33, 0]}},
"order": {"field": "t", "type": "quantitative"},
"color": {"field": "kind", "type": "nominal", "scale": {"domain": ["excluded", "kept"], "range": ["#00bfbf", "black"]}, "legend": null},
"strokeWidth": {"field": "name", "type": "ordinal", "scale": {"type": "ordinal", "domain": ["ICA000","ICA001","ICA002","ICA003","ICA004","ICA005","ICA006","ICA007","ICA008","ICA009","ICA010","ICA011","ICA012","ICA013","ICA014"], "range": [0.7, 0.7, 0.6, 0.6, 0.6, 0.6, 0.7, 1.0, 0.8, 1.8, 1.5, 0.8, 1.8, 0.9, 1.3]}, "legend": null}
}
}
